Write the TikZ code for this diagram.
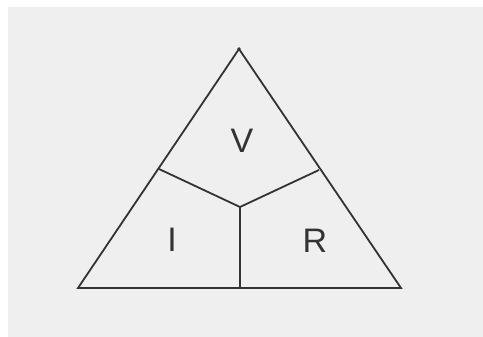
\documentclass[tikz,border=0pt]{standalone}
\usepackage{fontspec}
\setmainfont{Liberation Sans}
\definecolor{bggray}{HTML}{EFEFEF}
\definecolor{linec}{HTML}{333333}
\tikzset{
  edge/.style={draw=linec, line width=1.8pt, line join=miter},
  lbl/.style={font=\fontsize{34}{34}\selectfont, text=linec, inner sep=0pt}
}
\begin{document}
\begin{tikzpicture}[x=1pt,y=-1pt]
\useasboundingbox (0,0) rectangle (483,337);
\fill[white] (0,0) rectangle (483,337);
\fill[bggray] (8,7) rectangle (483,337);
\coordinate (top) at (239,49);
\coordinate (bl) at (78,288);
\coordinate (br) at (401,288);
\coordinate (lj) at (159,169);
\coordinate (rj) at (319,170);
\coordinate (c) at (240,207);
\coordinate (cb) at (240,288);
\draw[edge] (bl) -- (top) -- (br) -- cycle;
\draw[edge] (lj) -- (c) -- (rj);
\draw[edge] (c) -- (cb);
\fill[linec] (top) circle (1.8);
\node[lbl] (V) at (242,141) {V};
\node[lbl] (I) at (172,240) {I};
\node[lbl] (R) at (315,241) {R};
\end{tikzpicture}
\end{document}
